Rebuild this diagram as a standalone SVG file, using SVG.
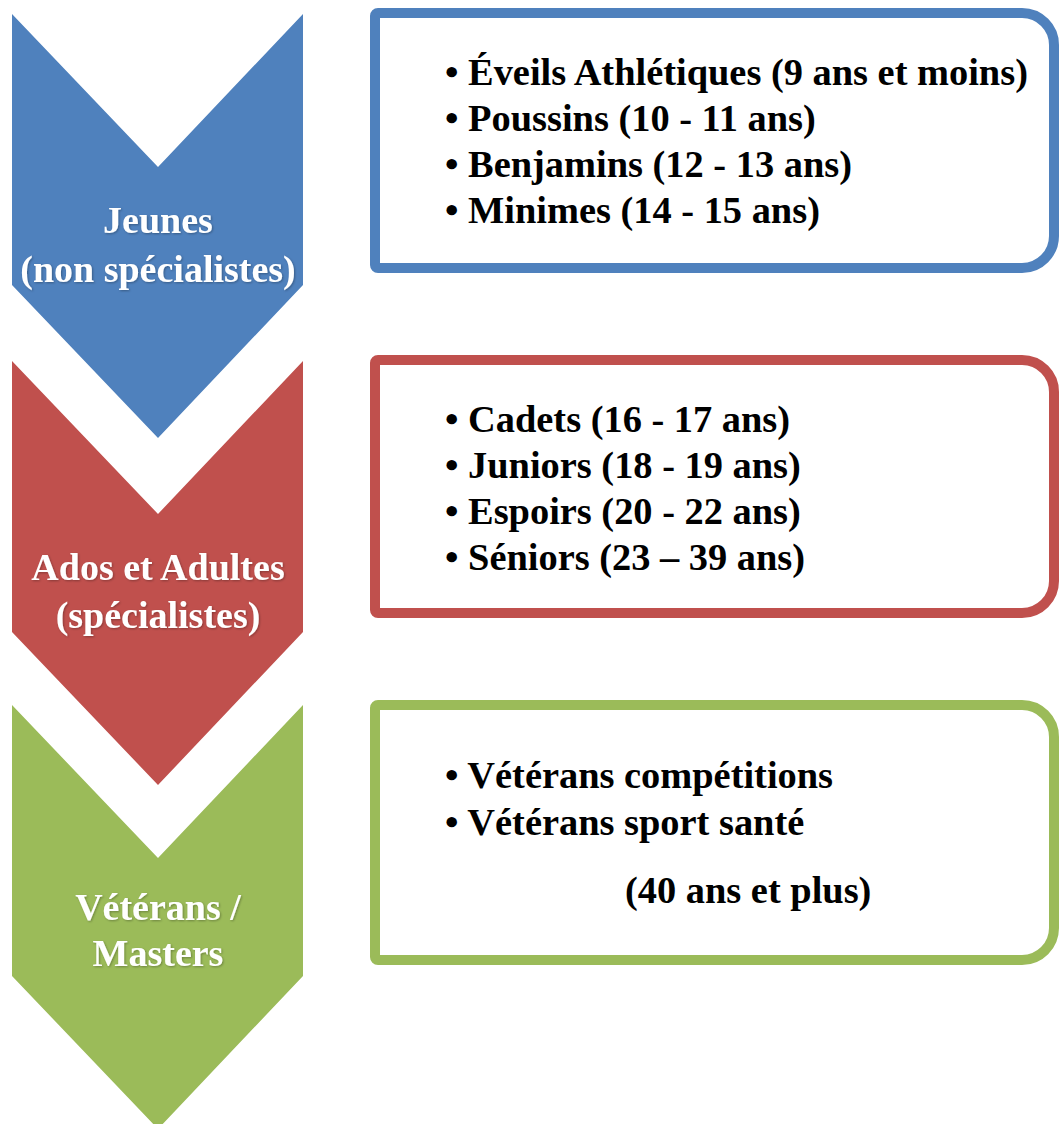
<svg xmlns="http://www.w3.org/2000/svg" width="1060" height="1124" viewBox="0 0 1060 1124">
  <style>
    .chev-label { font-family: "Liberation Serif", "Times New Roman", serif; font-weight: bold; font-size: 38px; fill: #ffffff; text-anchor: middle; }
    .item { font-family: "Liberation Serif", "Times New Roman", serif; font-weight: bold; font-size: 38.4px; fill: #000000; }
    .box { fill: #ffffff; stroke-width: 10; }
  </style>
  <defs>
    <filter id="shadow" x="-10%" y="-10%" width="120%" height="130%">
      <feDropShadow dx="1" dy="1" stdDeviation="0.8" flood-color="#000000" flood-opacity="0.3"/>
    </filter>
  </defs>
  <rect width="1060" height="1124" fill="#ffffff"/>

  <g id="jeunes">
    <path d="M12,14 L158,167 L303,14 L303,285 L158,438 L12,285 Z" fill="#4F81BD"/>
    <text class="chev-label" filter="url(#shadow)"><tspan x="158" y="233">Jeunes</tspan><tspan x="158" y="282">(non spécialistes)</tspan></text>
  </g>
  <g id="ados">
    <path d="M12,361 L158,514 L303,361 L303,632 L158,785 L12,632 Z" fill="#C0504D"/>
    <text class="chev-label" filter="url(#shadow)"><tspan x="158" y="580">Ados et Adultes</tspan><tspan x="158" y="628">(spécialistes)</tspan></text>
  </g>
  <g id="veterans">
    <path d="M12,705 L158,858 L303,705 L303,976 L158,1129 L12,976 Z" fill="#9BBB59"/>
    <text class="chev-label" filter="url(#shadow)"><tspan x="158" y="920">Vétérans /</tspan><tspan x="158" y="966">Masters</tspan></text>
  </g>

  <g id="box-jeunes">
    <path class="box" stroke="#4F81BD" d="M378,13 L1022,13 A32,32 0 0 1 1054,45 L1054,236 A32,32 0 0 1 1022,268 L378,268 A3,3 0 0 1 375,265 L375,16 A3,3 0 0 1 378,13 Z"/>
    <text class="item" x="445" y="85">• Éveils Athlétiques (9 ans et moins)</text>
    <text class="item" x="445" y="131">• Poussins (10 - 11 ans)</text>
    <text class="item" x="445" y="177">• Benjamins (12 - 13 ans)</text>
    <text class="item" x="445" y="223">• Minimes (14 - 15 ans)</text>
  </g>
  <g id="box-ados">
    <path class="box" stroke="#C0504D" d="M378,360 L1022,360 A32,32 0 0 1 1054,392 L1054,581 A32,32 0 0 1 1022,613 L378,613 A3,3 0 0 1 375,610 L375,363 A3,3 0 0 1 378,360 Z"/>
    <text class="item" x="445" y="432">• Cadets (16 - 17 ans)</text>
    <text class="item" x="445" y="478">• Juniors (18 - 19 ans)</text>
    <text class="item" x="445" y="524">• Espoirs (20 - 22 ans)</text>
    <text class="item" x="445" y="570">• Séniors (23 – 39 ans)</text>
  </g>
  <g id="box-veterans">
    <path class="box" stroke="#9BBB59" d="M378,705 L1022,705 A32,32 0 0 1 1054,737 L1054,928 A32,32 0 0 1 1022,960 L378,960 A3,3 0 0 1 375,957 L375,708 A3,3 0 0 1 378,705 Z"/>
    <text class="item" x="445" y="788">• Vétérans compétitions</text>
    <text class="item" x="445" y="835">• Vétérans sport santé</text>
    <text class="item" x="625" y="903">(40 ans et plus)</text>
  </g>

  <g id="connectors"></g>
</svg>
